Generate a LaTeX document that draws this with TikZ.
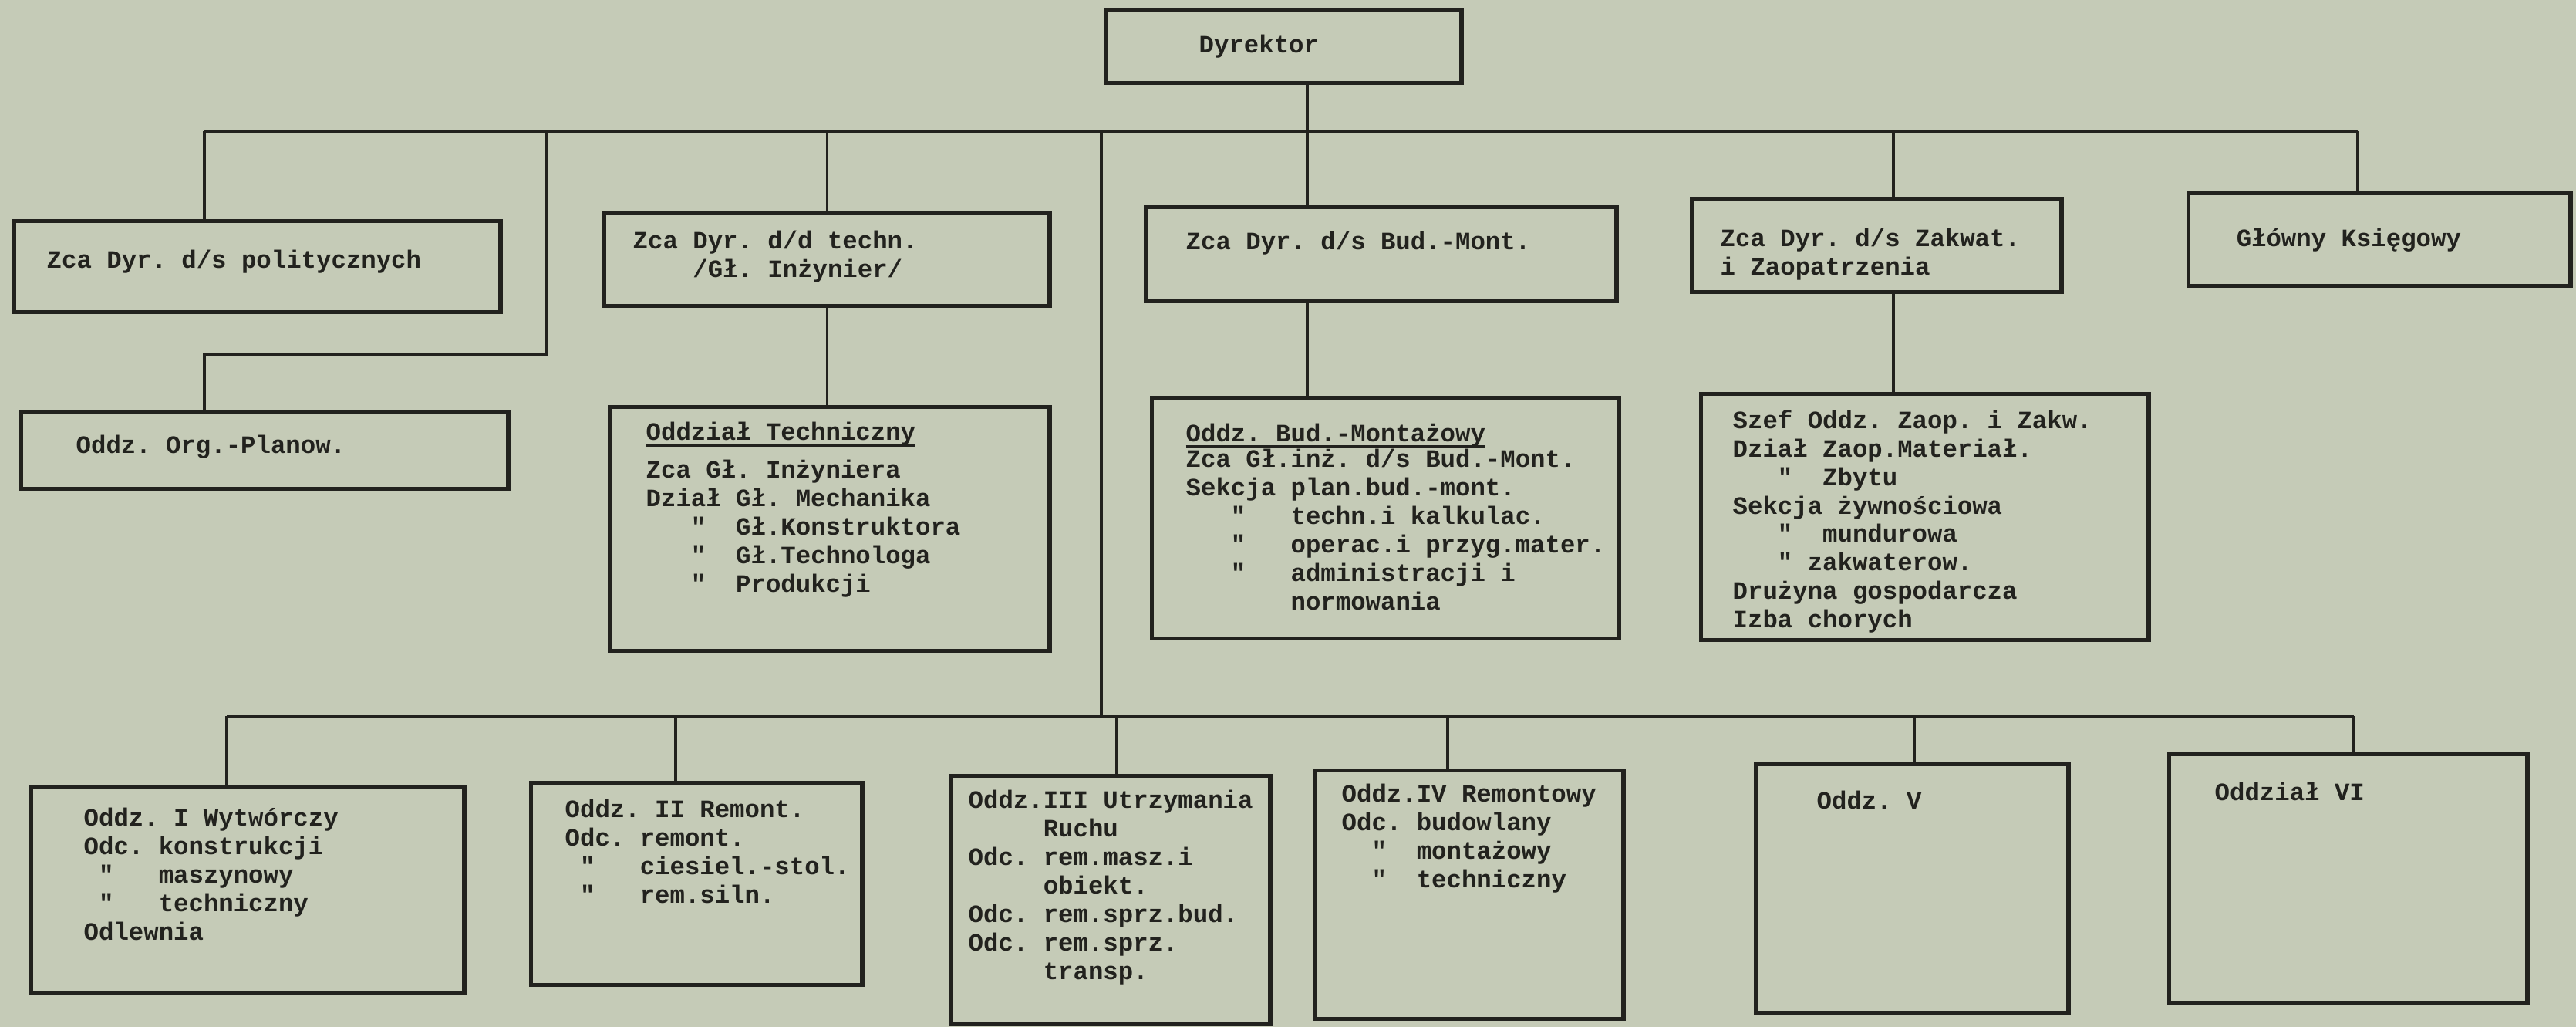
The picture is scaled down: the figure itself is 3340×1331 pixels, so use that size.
\documentclass[tikz,border=0pt]{standalone}
\usepackage{fontspec}
\newfontfamily\typefont{Liberation Mono}
\usepackage{xcolor}
\usetikzlibrary{calc,positioning}
\definecolor{paper}{RGB}{197,203,183}
\definecolor{ink}{RGB}{34,34,30}
\frenchspacing
\newcommand{\typed}{\typefont\bfseries\fontsize{9.2}{10.5}\selectfont}
\newcommand{\typedline}[1]{\setbox0\hbox{#1}\rlap{\rule[-2.4pt]{\wd0}{1.1pt}}\box0}
\tikzset{%
	unit/.style = {draw=ink, line width=1.5pt, rectangle, inner sep=0pt, anchor=north west},
	memo/.style = {font=\typed, text=ink, align=left, anchor=north west, inner sep=0pt, yshift=7.5pt, execute at begin node={\rule{0pt}{7.5pt}}},
	link/.style = {draw=ink, line width=0.9pt},
	bus/.style  = {draw=ink, line width=1.3pt},
}

\begin{document}
\begin{tikzpicture}[x=0.01cm, y=-0.01cm]
	\fill[paper] (0,0) rectangle (3340,1331);
	\useasboundingbox (0,0) rectangle (3340,1331);
	
	\node[unit, minimum width=4.60cm, minimum height=0.95cm] (dyr) at (1432,10) {};
	\node[unit, minimum width=6.30cm, minimum height=1.18cm] (pol) at (16,284) {};
	\node[unit, minimum width=6.31cm, minimum height=0.99cm] (org) at (25,532) {};
	\node[unit, minimum width=5.77cm, minimum height=1.20cm] (tech) at (781,274) {};
	\node[unit, minimum width=5.70cm, minimum height=3.16cm] (otech) at (788,525) {};
	\node[unit, minimum width=6.10cm, minimum height=1.22cm] (bud) at (1483,266) {};
	\node[unit, minimum width=6.05cm, minimum height=3.12cm] (obud) at (1491,513) {};
	\node[unit, minimum width=4.79cm, minimum height=1.21cm] (zak) at (2191,255) {};
	\node[unit, minimum width=5.80cm, minimum height=3.19cm] (szef) at (2203,508) {};
	\node[unit, minimum width=4.95cm, minimum height=1.20cm] (ksieg) at (2835,248) {};
	
	\node[unit, minimum width=5.61cm, minimum height=2.66cm] (o1) at (38,1018) {};
	\node[unit, minimum width=4.29cm, minimum height=2.62cm] (o2) at (686,1012) {};
	\node[unit, minimum width=4.14cm, minimum height=3.22cm] (o3) at (1230,1003) {};
	\node[unit, minimum width=4.00cm, minimum height=3.22cm] (o4) at (1702,996) {};
	\node[unit, minimum width=4.05cm, minimum height=3.22cm] (o5) at (2274,988) {};
	\node[unit, minimum width=4.64cm, minimum height=3.22cm] (o6) at (2810,975) {};
	
	\node[memo] (dyr-t) at (1554,68) {Dyrektor};
	\node[memo] (pol-t) at (60,347) {Zca Dyr. d/s politycznych};
	\node[memo] (org-t) at (98,587) {Oddz. Org.-Planow.};
	\node[memo] (tech-t) at (820,325) {Zca Dyr. d/d techn.\\~~~~/Gł. Inżynier/};
	\node[memo] (otech-h) at (837,570) {\typedline{Oddział Techniczny}};
	\node[memo] (otech-t) at (837,622) {Zca Gł. Inżyniera\\Dział Gł. Mechanika\\~~~"~~Gł.Konstruktora\\~~~"~~Gł.Technologa\\~~~"~~Produkcji};
	\node[memo] (bud-t) at (1537,323) {Zca Dyr. d/s Bud.-Mont.};
	\node[memo] (obud-h) at (1537,572) {\typedline{Oddz. Bud.-Montażowy}};
	\node[memo] (obud-t) at (1537,608) {Zca Gł.inż. d/s Bud.-Mont.\\Sekcja plan.bud.-mont.\\~~~"~~~techn.i kalkulac.\\~~~"~~~operac.i przyg.mater.\\~~~"~~~administracji i\\~~~~~~~normowania};
	\node[memo] (zak-t) at (2230,322) {Zca Dyr. d/s Zakwat.\\i Zaopatrzenia};
	\node[memo] (szef-t) at (2246,557) {Szef Oddz. Zaop. i Zakw.\\Dział Zaop.Materiał.\\~~~"~~Zbytu\\Sekcja żywnościowa\\~~~"~~mundurowa\\~~~"~zakwaterow.\\Drużyna gospodarcza\\Izba chorych};
	\node[memo] (ksieg-t) at (2899,319) {Główny Księgowy};
	
	\node[memo] (o1-t) at (108,1073) {Oddz. I Wytwórczy\\Odc. konstrukcji\\~"~~~maszynowy\\~"~~~techniczny\\Odlewnia};
	\node[memo] (o2-t) at (732,1062) {Oddz. II Remont.\\Odc. remont.\\~"~~~ciesiel.-stol.\\~"~~~rem.siln.};
	\node[memo] (o3-t) at (1255,1050) {Oddz.III Utrzymania\\~~~~~Ruchu\\Odc. rem.masz.i\\~~~~~obiekt.\\Odc. rem.sprz.bud.\\Odc. rem.sprz.\\~~~~~transp.};
	\node[memo] (o4-t) at (1739,1042) {Oddz.IV Remontowy\\Odc. budowlany\\~~"~~montażowy\\~~"~~techniczny};
	\node[memo] (o5-t) at (2355,1048) {Oddz. V};
	\node[memo] (o6-t) at (2871,1037) {Oddział VI};
	
	\coordinate (tl) at (265,170);
	\coordinate (tr) at (3057,170);
	\coordinate (jd) at (1695,170);
	\coordinate (jl) at (1428,170);
	\coordinate (jz) at (2455,170);
	\coordinate (lp) at (709,460);
	\coordinate (bl) at (294,928);
	\coordinate (br) at (3052,928);
	
	\draw[bus] (tl) -- (tr);
	\draw[link] (jd |- dyr.south) -- (jd |- bud.north);
	\draw[link] (tl) -- (tl |- pol.north);
	\draw[link] (lp |- tl) -- (lp) -| (tl |- org.north);
	\draw[link] (tech.north |- tl) -- (tech.north);
	\draw[link] (tech.south) -- (tech.south |- otech.north);
	\draw[link] (jd |- bud.south) -- (jd |- obud.north);
	\draw[link] (jz) -- (jz |- zak.north);
	\draw[link] (jz |- zak.south) -- (jz |- szef.north);
	\draw[link] (tr) -- (tr |- ksieg.north);
	
	\draw[link] (jl) -- (jl |- bl);
	\draw[bus] (bl) -- (br);
	\foreach \n/\x in {o1/294, o2/876, o3/1448, o4/1877, o5/2482, o6/3052} {
		\coordinate (drop) at (\x,928);
		\draw[link] (drop) -- (drop |- \n.north);
	}
\end{tikzpicture}
\end{document}
